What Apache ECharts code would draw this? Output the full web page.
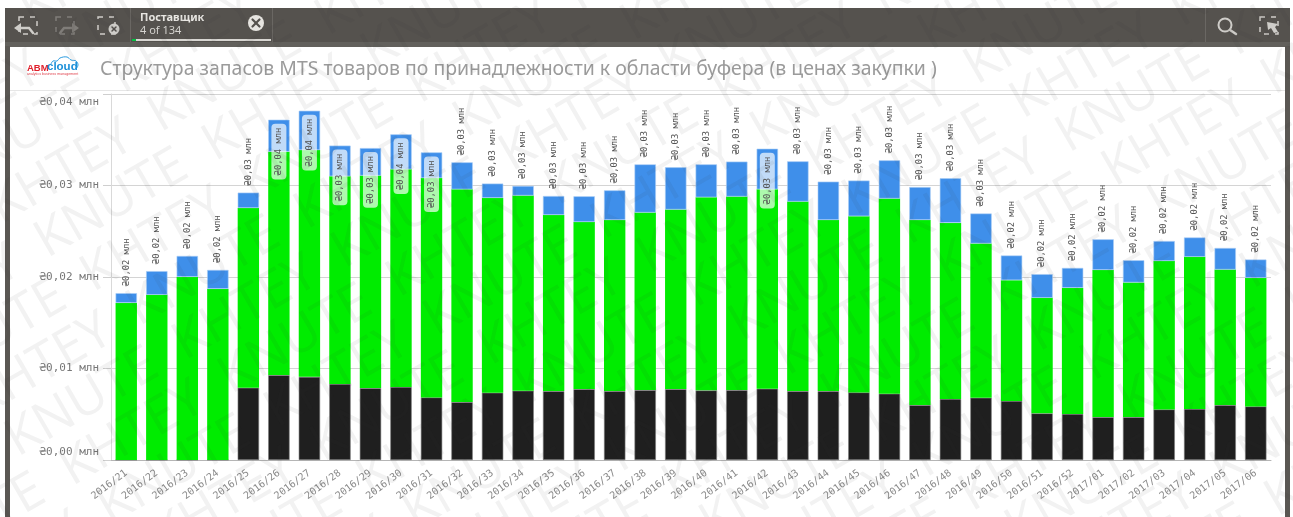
<!DOCTYPE html>
<html>
<head>
<meta charset="utf-8">
<script src="https://cdn.jsdelivr.net/npm/echarts@6/dist/echarts.min.js"></script>
<style>html,body{margin:0;padding:0;background:#fff}#main{width:1293px;height:517px}</style>
</head>
<body>
<div id="main"></div>
<script>
// Weekly inventory structure, in million UAH, split by buffer zone.
const categories = ['2016/21','2016/22','2016/23','2016/24','2016/25','2016/26','2016/27','2016/28','2016/29','2016/30','2016/31','2016/32','2016/33','2016/34','2016/35','2016/36','2016/37','2016/38','2016/39','2016/40','2016/41','2016/42','2016/43','2016/44','2016/45','2016/46','2016/47','2016/48','2016/49','2016/50','2016/51','2016/52','2017/01','2017/02','2017/03','2017/04','2017/05','2017/06'];
const blackZone = [0,0,0,0,.00789,.00928,.00909,.00830,.00786,.00797,.00684,.00633,.00735,.00757,.00753,.00775,.00753,.00764,.00775,.00761,.00764,.00778,.00753,.00753,.00739,.00724,.00600,.00666,.00680,.00644,.00510,.00502,.00469,.00469,.00553,.00557,.00600,.00586];
const greenZone = [.01717,.01805,.02001,.01870,.01965,.02442,.02478,.02271,.02322,.02380,.02397,.02325,.02129,.02133,.01925,.01826,.01870,.01940,.01962,.02110,.02115,.02180,.02071,.01870,.01925,.02133,.02023,.01925,.01686,.01321,.01262,.01379,.01608,.01471,.01622,.01663,.01481,.01404];
const blueZone = [.00106,.00259,.00229,.00207,.00168,.00349,.00430,.00335,.00301,.00382,.00281,.00295,.00157,.00105,.00207,.00281,.00324,.00527,.00462,.00360,.00382,.00444,.00440,.00419,.00390,.00418,.00360,.00488,.00328,.00270,.00259,.00218,.00335,.00243,.00218,.00212,.00236,.00201];
const yTicks = [0, 0.01, 0.02, 0.03, 0.04];
const title = 'Структура запасов MTS товаров по принадлежности к области буфера (в ценах закупки )';
const selectionField = 'Поставщик';
const selectionState = '4 of 134';

const MONO = '"DejaVu Sans Mono", monospace';
const money = v => '₴' + v.toFixed(2).replace('.', ',') + ' млн';
const totals = categories.map((_, i) => blackZone[i] + greenZone[i] + blueZone[i]);

// Totals too tall for an outside label get a pill inside the bar instead.
const INSIDE_FROM = 0.0335;
const blueData = blueZone.map((v, i) => {
  const inside = totals[i] > INSIDE_FROM;
  return {
    value: v,
    label: inside
      ? { position: 'insideTop', distance: 4, align: 'right', verticalAlign: 'middle',
          backgroundColor: 'rgba(255,255,255,0.68)', borderRadius: 4, padding: [3, 4, 3, 4] }
      : { position: 'top', distance: 7, align: 'left', verticalAlign: 'middle' }
  };
});

// Header chrome: the dark selection bar, panel frame and icons.
const BAR = '#55524e', ICON = '#cfcdc9';
function dashedFrame(x, y, w, h, color) {
  return { type: 'rect', shape: { x, y, width: w, height: h }, silent: true,
    style: { fill: 'none', stroke: color, lineWidth: 1.5, lineDash: [5, 6] } };
}
function poly(points, color, width) {
  return { type: 'polyline', shape: { points }, silent: true,
    style: { fill: 'none', stroke: color, lineWidth: width, lineCap: 'round' } };
}
const chrome = [
  { type: 'rect', shape: { x: 5, y: 8, width: 1285, height: 38 }, style: { fill: BAR } },
  { type: 'rect', shape: { x: 5, y: 42, width: 1285, height: 5 }, style: { fill: '#62605c' } },
  { type: 'rect', shape: { x: 5, y: 46, width: 5, height: 471 }, style: { fill: '#5a5753' } },
  { type: 'rect', shape: { x: 1285, y: 46, width: 5, height: 471 }, style: { fill: '#5a5753' } },
  { type: 'line', shape: { x1: 130.5, y1: 8, x2: 130.5, y2: 42 }, style: { stroke: '#6a6763' } },
  { type: 'line', shape: { x1: 272.5, y1: 8, x2: 272.5, y2: 42 }, style: { stroke: '#6a6763' } },
  { type: 'line', shape: { x1: 1205.5, y1: 8, x2: 1205.5, y2: 42 }, style: { stroke: '#6a6763' } },

  dashedFrame(19, 17, 18, 17, ICON),
  { type: 'polygon', shape: { points: [[14, 28], [21, 23], [21, 33]] }, style: { fill: ICON } },
  poly([[21, 28], [29, 28], [33, 33]], ICON, 2.5),
  dashedFrame(56, 17, 18, 17, '#807d79'),
  { type: 'polygon', shape: { points: [[79, 28], [72, 23], [72, 33]] }, style: { fill: '#807d79' } },
  poly([[72, 28], [64, 28], [60, 33]], '#807d79', 2.5),
  dashedFrame(98, 17, 17, 17, ICON),
  { type: 'circle', shape: { cx: 114, cy: 29, r: 5.5 }, style: { fill: ICON } },
  poly([[112, 27], [116, 31]], BAR, 1.5),
  poly([[116, 27], [112, 31]], BAR, 1.5),

  { type: 'text', x: 140, y: 12, style: { text: selectionField, fill: '#e8e6e2', font: 'bold 11px "Noto Sans"' } },
  { type: 'text', x: 140, y: 25, style: { text: selectionState, fill: '#d5d3cf', font: '11px "Noto Sans"' } },
  { type: 'circle', shape: { cx: 256, cy: 23, r: 8 }, style: { fill: '#e6e4e0' } },
  poly([[252.5, 19.5], [259.5, 26.5]], BAR, 2.2),
  poly([[259.5, 19.5], [252.5, 26.5]], BAR, 2.2),
  { type: 'rect', shape: { x: 136, y: 39, width: 135, height: 2 }, style: { fill: '#d8d6d2' } },
  { type: 'rect', shape: { x: 132, y: 39, width: 4, height: 2 }, style: { fill: '#00c040' } },

  { type: 'circle', shape: { cx: 1225, cy: 25, r: 6.5 }, style: { fill: 'none', stroke: ICON, lineWidth: 2 } },
  poly([[1230, 30], [1236, 34]], ICON, 2.5),
  dashedFrame(1260, 17, 18, 17, ICON),
  { type: 'polygon', shape: { points: [[1267, 22], [1278, 24], [1275, 27], [1278, 32], [1274, 33], [1271, 28], [1268, 30]] }, style: { fill: ICON } },

  // Logo and panel title
  { type: 'polyline', shape: { points: [[51, 64], [53, 61], [57, 61], [60, 58], [67, 57], [71, 60], [76, 61], [78, 65], [76, 69]], smooth: 0.4 },
    style: { fill: 'none', stroke: '#2a9be0', lineWidth: 1 } },
  { type: 'text', x: 27, y: 63, style: { text: 'ABM', fill: '#e0202c', font: 'bold 9.5px "Liberation Sans"' } },
  { type: 'text', x: 47, y: 61, style: { text: 'cloud', fill: '#1b8fd8', font: 'bold 11.5px "Liberation Sans"' } },
  { type: 'text', x: 27, y: 72, style: { text: 'analytics business management', fill: '#e0404c', font: '3.6px "Liberation Sans"' } },
  { type: 'text', x: 100, y: 60, style: { text: title, fill: '#9b9b9b', font: '19.45px "Noto Sans"' } },
  { type: 'line', shape: { x1: 10, y1: 90.5, x2: 1285, y2: 90.5 }, style: { stroke: '#e6e6e6', lineWidth: 1 } }
];

// Diagonal security stamp laid over the whole page.
const STAMP_PERIOD = 370;
const STAMP_ANGLE = Math.PI / 6;
const stamp = [];
for (let r = -13; r <= 11; r++) {
  const pair = (r % 2 === 0) ? 'KNUTE  KHTEY  ' : 'KHTEY  KNUTE  ';
  const back = 4 * STAMP_PERIOD;
  stamp.push({
    type: 'text', silent: true, z: 100,
    x: 1036 + 46 * r - back * Math.cos(STAMP_ANGLE),
    y: 155 + 34 * r + back * Math.sin(STAMP_ANGLE),
    rotation: STAMP_ANGLE,
    style: { text: pair.repeat(12), fill: 'rgba(40,40,40,0.062)', font: '52px "Open Sans"', verticalAlign: 'middle' }
  });
}

const chart = echarts.init(document.getElementById('main'), null, { renderer: 'canvas' });
const barBase = { type: 'bar', stack: 'zones', barWidth: '70%' };
chart.setOption({
  animation: false,
  backgroundColor: '#fff',
  graphic: { elements: chrome.concat(stamp) },
  grid: { left: 111, right: 22, top: 94, bottom: 57, containLabel: false },
  xAxis: {
    type: 'category', data: categories,
    axisLine: { lineStyle: { color: '#b5b5b5', width: 1 } },
    axisTick: { show: false },
    axisLabel: { rotate: 37, interval: 0, margin: 12, color: '#8a8a8a', fontFamily: MONO, fontSize: 10 }
  },
  yAxis: {
    type: 'value', min: 0, max: 0.04, interval: 0.01,
    axisLine: { show: true, lineStyle: { color: '#d9d9d9', width: 1 } },
    axisTick: { show: true, length: 8, lineStyle: { color: '#cfcfcf' } },
    splitLine: { lineStyle: { color: '#d4d4d4', width: 1 } },
    axisLabel: {
      margin: 12, color: '#777', fontFamily: MONO, fontSize: 11, lineHeight: 16,
      verticalAlignMinLabel: 'bottom', verticalAlignMaxLabel: 'top',
      formatter: v => money(yTicks.reduce((a, t) => Math.abs(t - v) < Math.abs(a - v) ? t : a))
    }
  },
  series: [
    Object.assign({}, barBase, { name: 'Чёрная зона', data: blackZone,
      itemStyle: { color: '#1f1f1f', borderColor: '#7c7c7c', borderWidth: 0.6 } }),
    Object.assign({}, barBase, { name: 'Зелёная зона', data: greenZone,
      itemStyle: { color: '#00ec00' } }),
    Object.assign({}, barBase, { name: 'Синяя зона', data: blueData,
      itemStyle: { color: '#3f8fea', borderColor: '#a9cdf5', borderWidth: 0.6 },
      label: {
        show: true, rotate: 90, color: '#555', fontFamily: MONO, fontSize: 8.8,
        formatter: p => money(totals[p.dataIndex])
      } })
  ]
});
</script>
</body>
</html>
